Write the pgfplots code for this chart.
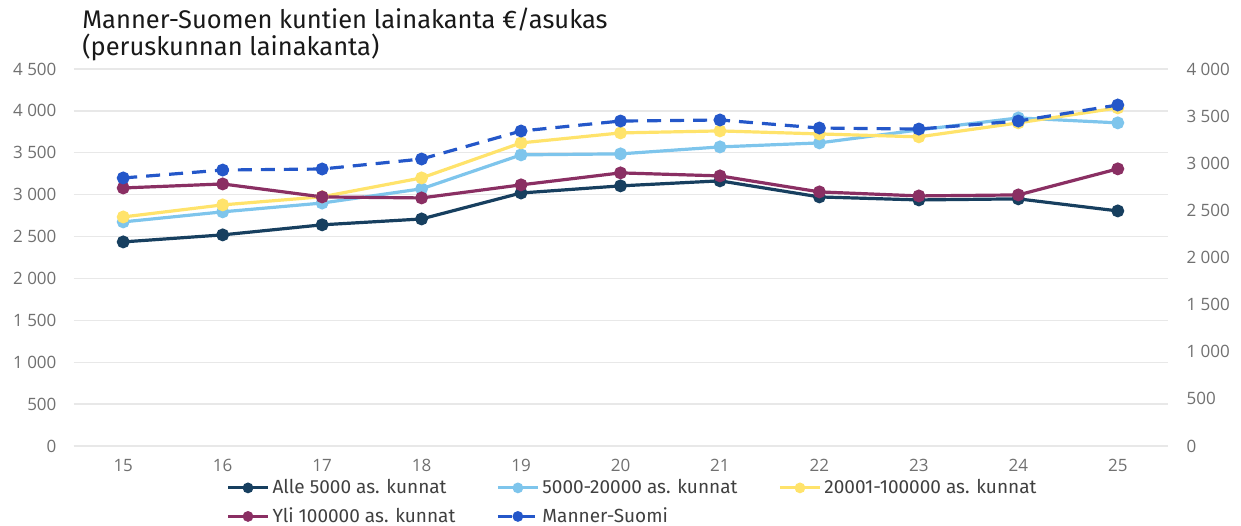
\documentclass[border=0pt]{standalone}
\usepackage{pgfplots}
\pgfplotsset{compat=1.18}
\usepackage{fontspec}
\setmainfont{Fira Sans}
\newfontfamily\tickfont{Open Sans}

\definecolor{cNavy}{HTML}{173F5F}
\definecolor{cLight}{HTML}{7EC5EC}
\definecolor{cYellow}{HTML}{FFE36B}
\definecolor{cPurple}{HTML}{8A2F63}
\definecolor{cBlue}{HTML}{2457C9}
\definecolor{gridgray}{HTML}{E8E8E8}
\definecolor{tickgray}{HTML}{707070}

\pgfplotsset{
  base/.style={
    scale only axis, width=547pt, height=188.5pt,
    at={(36.75pt,39.5pt)}, anchor=south west,
    xmin=14.5, xmax=25.5, ymin=0,
    axis line style={draw=none},
    tick style={draw=none},
    ticklabel style={font=\tickfont\fontsize{8.5}{10}\selectfont, text=tickgray},
    /pgf/number format/assume math mode=true,
    /pgf/number format/1000 sep={\ },
  },
  ser/.style={color=#1, line width=1.6pt, mark=*, mark size=2.4pt, mark options={solid}},
}

\begin{document}
\begin{tikzpicture}
\begin{axis}[base,
  ymax=4500, ytick={0,500,...,4500},
  xtick={15,...,25},
  ymajorgrids, major grid style={draw=gridgray, line width=0.7pt},
  extra y ticks={0}, extra y tick labels={},
  extra y tick style={grid style={draw=black!22, line width=1.2pt}},
  yticklabel style={anchor=east, xshift=-5pt},
  xticklabel style={yshift=-3pt},
]
\addplot[ser=cNavy] coordinates {(15,2436) (16,2520) (17,2640) (18,2710) (19,3020) (20,3105) (21,3165) (22,2973) (23,2937) (24,2950) (25,2806)};
\addplot[ser=cLight] coordinates {(15,2675) (16,2795) (17,2900) (18,3070) (19,3475) (20,3487) (21,3570) (22,3618) (23,3773) (24,3916) (25,3857)};
\addplot[ser=cYellow] coordinates {(15,2734) (16,2878) (17,2975) (18,3200) (19,3618) (20,3737) (21,3761) (22,3725) (23,3690) (24,3857) (25,4036)};
\addplot[ser=cPurple] coordinates {(15,3080) (16,3128) (17,2973) (18,2961) (19,3117) (20,3260) (21,3224) (22,3033) (23,2985) (24,2997) (25,3308)};
\end{axis}
\begin{axis}[base,
  ymax=4000, ytick={0,500,...,4000},
  axis x line=none, axis y line*=right,
  yticklabel style={anchor=west, xshift=6pt},
  legend columns=3, legend cell align=left,
  legend image code/.code={\draw[mark repeat=2, mark phase=2, #1, line width=1.5pt, mark size=1.9pt] plot coordinates {(0pt,0pt) (10pt,0pt) (20pt,0pt)};},
  legend style={at={(0.134,-0.066)}, anchor=north west, draw=none, fill=none,
    font=\fontsize{9.5}{11}\selectfont, text=black!75, row sep=1.5pt,
    nodes={inner xsep=1.5pt},
    /tikz/every even column/.append style={column sep=19pt}},
]
\addlegendimage{ser=cNavy}
\addlegendentry{Alle 5000 as. kunnat}
\addlegendimage{ser=cLight}
\addlegendentry{5000-20000 as. kunnat}
\addlegendimage{ser=cYellow}
\addlegendentry{20001-100000 as. kunnat}
\addlegendimage{ser=cPurple}
\addlegendentry{Yli 100000 as. kunnat}
\addplot[ser=cBlue, dash pattern=on 7pt off 4.5pt] coordinates {(15,2844) (16,2928) (17,2939) (18,3045) (19,3342) (20,3448) (21,3459) (22,3374) (23,3363) (24,3448) (25,3618)};
\addlegendentry{Manner-Suomi}
\end{axis}
\node[anchor=base west, inner sep=0pt, font=\fontsize{12.75}{15}\selectfont, text=black!90] at (41pt,248pt) {Manner-Suomen kuntien lainakanta €/asukas};
\node[anchor=base west, inner sep=0pt, font=\fontsize{12.75}{15}\selectfont, text=black!90] at (41pt,234.5pt) {(peruskunnan lainakanta)};
\pgfresetboundingbox
\path[use as bounding box] (0,0) rectangle (620.5pt,262.5pt);
\end{tikzpicture}
\end{document}
